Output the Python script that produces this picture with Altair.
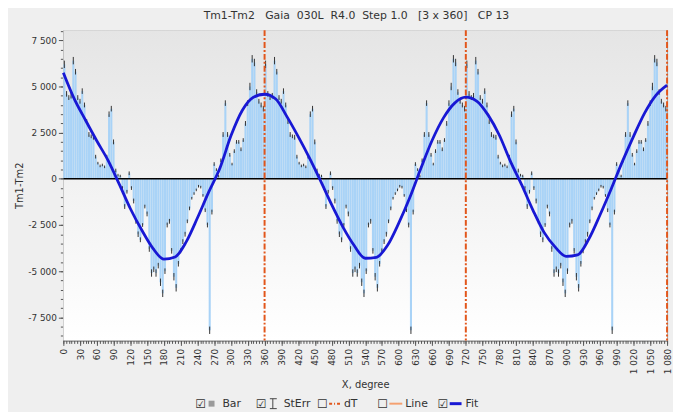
import altair as alt
import pandas as pd

FONT = "DejaVu Sans"

# ---- data (one 360-degree cycle, step 4 deg; chart shows 3 x 360) ----
cycleDeg = list(range(0, 360, 4))
cycleVals = [
    6200, 4600, 4400, 4500, 6400, 5800, 4400, 4200, 4750, 4000,
    3100, 2400, 2300, 2250, 1200, 850, 700, 750, 650, 1200,
    3500, 3800, 2000, 450, 200, 150, -500, -1500, -700, 300,
    -500, -1200, -2300, -3000, -3300, -2500, -1500, -1900, -3800, -5100,
    -4900, -5100, -4700, -5600, -6200, -5000, -2500, -2300, -3900, -5300,
    -5900, -4600, -3900, -3400, -3000, -2300, -1600, -1050, -800, -600,
    -400, -450, -900, -1700, -2500, -8200, -1800, 800, 500, 150,
    1000, 2400, 4100, 2400, 1300, 800, 1500, 2000, 2000, 1600,
    2100, 3000, 4100, 5000, 6500, 6300, 4700, 4200, 4000, 3800,
]
cycleErr = [
    200, 150, 130, 150, 200, 150, 130, 130, 150, 130,
    130, 130, 100, 130, 100, 70, 70, 70, 70, 100,
    150, 150, 130, 100, 70, 70, 100, 130, 100, 100,
    100, 130, 130, 150, 130, 100, 100, 130, 150, 200,
    150, 200, 150, 200, 200, 150, 130, 130, 150, 200,
    200, 150, 130, 130, 130, 100, 100, 70, 70, 70,
    70, 70, 70, 100, 130, 200, 130, 100, 70, 70,
    100, 130, 150, 130, 100, 70, 100, 100, 100, 100,
    100, 130, 150, 200, 200, 200, 150, 130, 130, 150,
]
cycleOffsets = [0, 360, 720]

fitX = list(range(0, 1081, 20))
fitY = [
    5750, 4300, 3160, 2050, 1000, -290, -1620, -2760, -3750, -4350,
    -4230, -3400, -2110, -720, 570, 2340, 3700, 4420, 4580, 4320,
    3370, 2300, 1150, -100, -1400, -2600, -3600, -4300, -4250, -3600,
    -2400, -1000, 600, 2100, 3300, 4100, 4420, 4200, 3450, 2360,
    930, -330, -1690, -2900, -3700, -4200, -4120, -3260, -1960, -550,
    930, 2300, 3570, 4520, 5070,
]
dTx = [360, 720, 1080]
zeroY = [0]

yMajor = [-7500, -5000, -2500, 0, 2500, 5000, 7500]
yMinor = list(range(-8500, 8001, 500))
xMajor = list(range(0, 1081, 30))
xMinor = list(range(0, 1081, 5))

rows = []
for off in cycleOffsets:
    for d, v, e in zip(cycleDeg, cycleVals, cycleErr):
        rows.append({"x": off + d, "v": v, "lo": v - e, "hi": v + e})
df = pd.DataFrame(rows)
fitDf = pd.DataFrame({"fx": fitX, "fy": fitY})

W, H = 611, 314
xs = alt.Scale(domain=[0, 1080], nice=False, zero=False)
ys = alt.Scale(domain=[-8750, 8050], nice=False, zero=False)
numExpr = "replace(replace(format(datum.value, ','), ',', ' '), '\u2212', '-')"

bg = alt.Chart(alt.Data(values=[{}])).mark_rect(
    color=alt.LinearGradient(
        gradient="linear", x1=0, x2=0, y1=0, y2=1,
        stops=[alt.GradientStop(color="#e5e5e5", offset=0),
               alt.GradientStop(color="#ffffff", offset=1)])
).encode(x=alt.value(0), x2=alt.value(W), y=alt.value(0), y2=alt.value(H))

bars = alt.Chart(df).transform_calculate(x2="datum.x + 3.7").mark_bar(
    color="#a9d3f7"
).encode(
    x=alt.X("x:Q", scale=xs, axis=alt.Axis(
        values=xMajor, labelExpr=numExpr, labelAngle=270, tickSize=5, labelPadding=3,
        grid=False, title="X, degree", orient="bottom", titlePadding=6)),
    x2="x2:Q",
    y=alt.Y("v:Q", scale=ys, axis=alt.Axis(
        values=yMajor, labelExpr=numExpr, tickSize=5, labelPadding=2, grid=True,
        gridColor="#b5b5b5", gridDash=[2, 2], title="Tm1-Tm2", orient="left", titlePadding=3)),
    y2=alt.datum(0),
)

errs = alt.Chart(df).transform_calculate(xc="datum.x + 1.8").mark_rule(
    color="#333333", strokeWidth=1
).encode(
    x=alt.X("xc:Q", scale=xs, axis=alt.Axis(
        values=xMinor, labels=False, domain=False, grid=False, tickSize=3, title="", orient="bottom")),
    y=alt.Y("lo:Q", scale=ys, axis=alt.Axis(
        values=yMinor, labels=False, domain=False, grid=False, tickSize=3, title="", orient="left")),
    y2="hi:Q",
)

zero = alt.Chart(pd.DataFrame({"z": zeroY})).mark_rule(color="#000000", strokeWidth=1.6).encode(
    y=alt.Y("z:Q", scale=ys, axis=None))

dts = alt.Chart(pd.DataFrame({"d": dTx})).mark_rule(
    color="#e2561b", strokeWidth=2, strokeDash=[6, 2, 2, 2]
).encode(x=alt.X("d:Q", scale=xs, axis=None))

fit = alt.Chart(fitDf).mark_line(color="#1818d4", strokeWidth=2.8, interpolate="monotone").encode(
    x=alt.X("fx:Q", scale=xs, axis=None), y=alt.Y("fy:Q", scale=ys, axis=None))

# ---- legend row (decoration) ----
LY = 378
one = alt.Data(values=[{}])


def txt(s, x, size=11, align="left", color="#333333"):
    return alt.Chart(one).mark_text(text=s, align=align, baseline="middle", font=FONT,
                                    fontSize=size, color=color).encode(
        x=alt.value(x), y=alt.value(LY))


def hline(x1, x2, color, dash=None, width=2):
    kw = dict(color=color, strokeWidth=width)
    if dash:
        kw["strokeDash"] = dash
    return alt.Chart(one).mark_rule(**kw).encode(
        x=alt.value(x1), x2=alt.value(x2), y=alt.value(LY))


legend = [
    txt("\u2611", 139, 12, "center"),
    alt.Chart(one).mark_rect(color="#9a9a9a").encode(
        x=alt.value(147), x2=alt.value(153), y=alt.value(LY - 3), y2=alt.value(LY + 3)),
    txt("Bar", 161),
    txt("\u2611", 200, 12, "center"),
    alt.Chart(one).mark_rule(color="#444444", strokeWidth=1).encode(
        x=alt.value(212), y=alt.value(LY - 5), y2=alt.value(LY + 5)),
    hline(209, 216, "#444444", width=1).encode(y=alt.value(LY - 5)),
    hline(209, 216, "#444444", width=1).encode(y=alt.value(LY + 5)),
    txt("StErr", 223),
    txt("\u2610", 262, 12, "center"),
    hline(269, 281, "#e2561b", [3, 2, 1, 2]),
    txt("dT", 284),
    txt("\u2610", 323, 12, "center"),
    hline(330, 343, "#f4a070"),
    txt("Line", 346),
    txt("\u2611", 384, 12, "center"),
    hline(391, 403, "#1818d4", width=3),
    txt("Fit", 407),
]

chart = alt.layer(bg, bars, errs, zero, dts, fit, *legend).resolve_axis(
    x="independent", y="independent"
).properties(
    width=W, height=H,
    autosize=alt.AutoSizeParams(type="none"),
    padding={"left": 56, "top": 20, "right": 6, "bottom": 70},
    background="#efefef",
    title=alt.TitleParams(
        text="Tm1-Tm2\u00a0\u00a0\u00a0Gaia\u00a0\u00a0030L\u00a0\u00a0R4.0\u00a0\u00a0Step\u00a01.0\u00a0\u00a0\u00a0[3\u00a0x\u00a0360]\u00a0\u00a0\u00a0CP\u00a013",
        anchor="start", frame="group", dx=142, fontSize=11, font=FONT, fontWeight="normal",
        color="#333333", offset=8),
).configure_view(stroke="#9a9a9a", strokeWidth=1).configure_axis(
    labelFont=FONT, titleFont=FONT, labelFontSize=9, titleFontSize=10,
    labelColor="#333333", titleColor="#333333", titleFontWeight="normal",
    tickColor="#555555", domainColor="#555555",
)

chart.save("out.html", embed_options={"renderer": "svg", "actions": False})
